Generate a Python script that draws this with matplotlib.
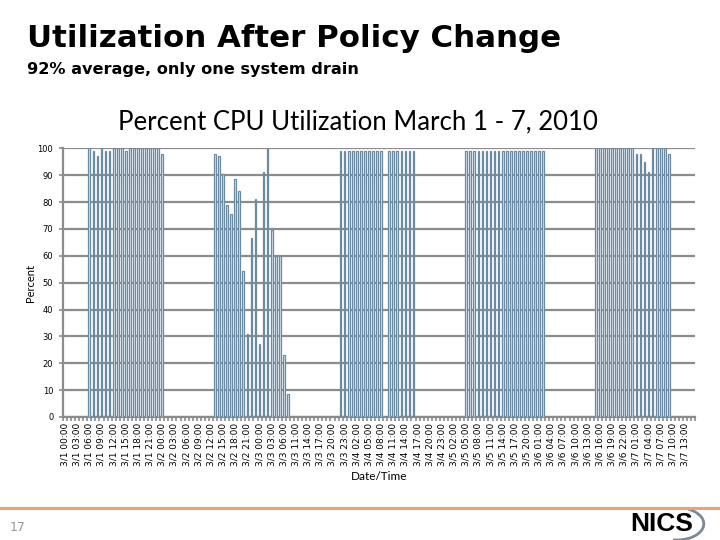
import matplotlib
matplotlib.use( 'Agg' );
import matplotlib.pyplot as plt;
import numpy as np;
from matplotlib.patches import Arc;


# hourly CPU utilisation, 12 values per row
cpu_pct \
  = [ 0, 0, 0, 0, 0, 0, 100, 99, 97, 100, 99, 99,
      100, 100, 100, 99, 100, 100, 100, 100, 100, 100, 100, 100,
      98, 0, 0, 0, 0, 0, 0, 0, 0, 0, 0, 0,
      0, 98, 97, 90.5, 79, 75.5, 88.5, 84, 54.5, 31, 66.5, 81,
      27, 91, 100, 69.5, 60, 60, 23, 8.5, 0, 0, 0, 0,
      0, 0, 0, 0, 0, 0, 0, 0, 99, 99, 99, 99,
      99, 99, 99, 99, 99, 99, 99, 0, 99, 99, 99, 99,
      99, 99, 99, 0, 0, 0, 0, 0, 0, 0, 0, 0,
      0, 0, 0, 99, 99, 99, 99, 99, 99, 99, 99, 99,
      99, 99, 99, 99, 99, 99, 99, 99, 99, 99, 99, 0,
      0, 0, 0, 0, 0, 0, 0, 0, 0, 0, 0, 100,
      100, 100, 100, 100, 100, 100, 100, 100, 100, 98, 98, 95,
      91, 100, 100, 100, 100, 98, 0, 0, 0, 0, 0, 0 ];

# every third category is labelled
tick_labels \
  = [ '3/1 00:00', '3/1 03:00', '3/1 06:00', '3/1 09:00', '3/1 12:00',
      '3/1 15:00', '3/1 18:00', '3/1 21:00', '3/2 00:00', '3/2 03:00',
      '3/2 06:00', '3/2 09:00', '3/2 12:00', '3/2 15:00', '3/2 18:00',
      '3/2 21:00', '3/3 00:00', '3/3 03:00', '3/3 06:00', '3/3 11:00',
      '3/3 14:00', '3/3 17:00', '3/3 20:00', '3/3 23:00', '3/4 02:00',
      '3/4 05:00', '3/4 08:00', '3/4 11:00', '3/4 14:00', '3/4 17:00',
      '3/4 20:00', '3/4 23:00', '3/5 02:00', '3/5 05:00', '3/5 08:00',
      '3/5 11:00', '3/5 14:00', '3/5 17:00', '3/5 20:00', '3/6 01:00',
      '3/6 04:00', '3/6 07:00', '3/6 10:00', '3/6 13:00', '3/6 16:00',
      '3/6 19:00', '3/6 22:00', '3/7 01:00', '3/7 04:00', '3/7 07:00',
      '3/7 10:00', '3/7 13:00' ];

y_ticks = [ 0, 10, 20, 30, 40, 50, 60, 70, 80, 90, 100 ];


def main():

  fig = plt.figure( figsize=(7.2,5.4), dpi=100 );

  # slide header
  fig.text( 0.038, 0.928, 'Utilization After Policy Change', fontsize=22.2,
            fontweight='bold', family='DejaVu Sans', va='center' );
  fig.text( 0.038, 0.871, '92% average, only one system drain', fontsize=11.6,
            fontweight='bold', family='DejaVu Sans', va='center' );

  ax = fig.add_axes( [0.0875, 0.2278, 0.878, 0.4976] );

  n = len( cpu_pct );
  x = np.arange( n );

  ax.yaxis.grid( True, color='#8c8c8c', linewidth=1.6 );
  ax.set_axisbelow( True );

  ax.bar( x, cpu_pct, width=0.42, color='#dce6f2', edgecolor='#6b8ba3',
          linewidth=0.9, zorder=3 );

  ax.set_xlim( -0.5, n-0.5 );
  ax.set_ylim( 0, 100 );

  ax.set_yticks( y_ticks );
  ax.set_yticklabels( [str(v) for v in y_ticks], fontsize=6 );
  ax.set_xticks( x[::3] );
  ax.set_xticklabels( tick_labels, rotation=90, fontsize=6.5 );
  ax.set_xticks( np.arange(-0.5, n, 1.0), minor=True );
  ax.tick_params( axis='x', which='major', length=0, pad=4 );
  ax.tick_params( axis='x', which='minor', length=3, width=1.2, color='#8c8c8c' );
  ax.tick_params( axis='y', length=3, width=1.2, color='#8c8c8c', pad=4 );

  for side in ['top', 'right']:
    ax.spines[side].set_visible( False );
  for side in ['left', 'bottom']:
    ax.spines[side].set_color( '#8c8c8c' );
    ax.spines[side].set_linewidth( 1.6 );

  fig.text( 0.497, 0.774, 'Percent CPU Utilization March 1 - 7, 2010',
            fontsize=18.5, family='Lato', ha='center', va='center' );
  ax.set_ylabel( 'Percent', fontsize=8, family='Lato', labelpad=1 );
  ax.set_xlabel( 'Date/Time', fontsize=8.5, family='Lato', labelpad=4 );

  # footer: rule, page number, logo
  fig.add_artist( plt.Line2D( [0, 1], [0.0595, 0.0595], color='#e9a27a',
                              linewidth=2.2 ) );
  fig.text( 0.014, 0.024, '17', fontsize=9, color='#999999', va='center' );
  fig.text( 0.876, 0.030, 'NICS', fontsize=19, fontweight='bold',
            family='Liberation Sans', va='center' );
  fig.add_artist( Arc( (0.94, 0.030), 0.075, 0.06, theta1=-100, theta2=60,
                       color='#7a8a96', linewidth=2.0,
                       transform=fig.transFigure ) );

  fig.savefig( 'out.png', dpi=100 );


if __name__ == "__main__":

  main();
